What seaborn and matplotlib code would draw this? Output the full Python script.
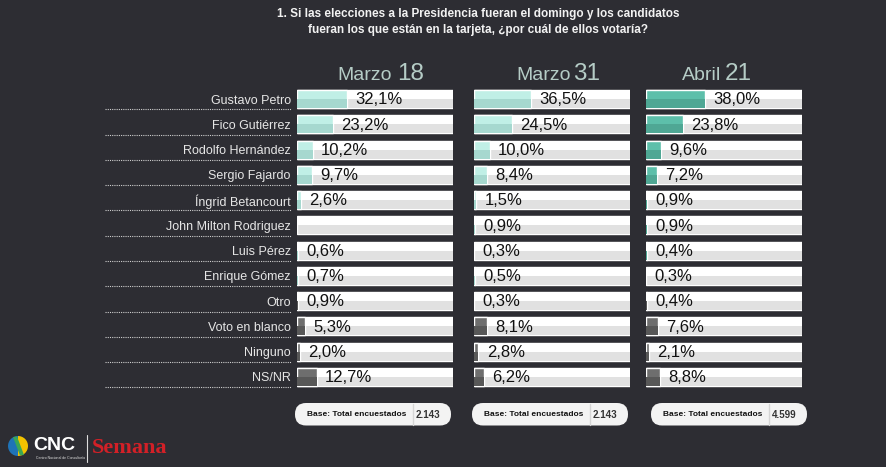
import numpy as np
import pandas as pd
import matplotlib
matplotlib.use("Agg")
import matplotlib.pyplot as plt
import seaborn as sns
from matplotlib.patches import Rectangle, FancyBboxPatch, Wedge, Polygon

candidatos = ["Gustavo Petro", "Fico Gutiérrez", "Rodolfo Hernández", "Sergio Fajardo",
              "Íngrid Betancourt", "John Milton Rodriguez", "Luis Pérez", "Enrique Gómez",
              "Otro", "Voto en blanco", "Ninguno", "NS/NR"]
tipo = ["cand"] * 8 + ["otro"] * 4
marzo18 = [32.1, 23.2, 10.2, 9.7, 2.6, np.nan, 0.6, 0.7, 0.9, 5.3, 2.0, 12.7]
marzo31 = [36.5, 24.5, 10.0, 8.4, 1.5, 0.9, 0.3, 0.5, 0.3, 8.1, 2.8, 6.2]
abril21 = [38.0, 23.8, 9.6, 7.2, 0.9, 0.9, 0.4, 0.3, 0.4, 7.6, 2.1, 8.8]
fechas = [("Marzo", "18"), ("Marzo", "31"), ("Abril", "21")]
bases = ["2.143", "2.143", "4.599"]

BG = "#2d2d33"
W, H = 887, 467
sns.set_theme(style="white")
plt.rcParams["font.family"] = ["Liberation Sans", "DejaVu Sans"]

fig = plt.figure(figsize=(W / 100, H / 100), dpi=100, facecolor=BG)

def fx(px):
    return px / W

def fy(py):
    return 1 - py / H

# zona de barras en pixeles
top, bottom = 86.4, 389.6
lefts = [297, 474, 646]
pal_panels = [
    {"cand": "#c0efe6", "otro": "#6e6e6e"},
    {"cand": "#c0efe6", "otro": "#6e6e6e"},
    {"cand": "#5dbfaa", "otro": "#6e6e6e"},
]
darker = {"#c0efe6": "#a6d8cf", "#5dbfaa": "#4fa794", "#6e6e6e": "#585858", "#ffffff": "#e1e1e1"}
header_off = [(61, 64.2), (62, 63.3), (48, 50.3)]

series = [marzo18, marzo31, abril21]

def shade_lower(ax, patches, color_lookup, z):
    for p in patches:
        fc = matplotlib.colors.to_hex(p.get_facecolor())
        lo = color_lookup.get(fc, fc)
        ax.add_patch(Rectangle((p.get_x(), p.get_y() + p.get_height() / 2), p.get_width(),
                               p.get_height() / 2, facecolor=lo, edgecolor="none", zorder=z))

for k, vals in enumerate(series):
    ax = fig.add_axes([fx(lefts[k]), fy(bottom), fx(156), (bottom - top) / H])
    ax.set_facecolor("none")
    df = pd.DataFrame({"cand": candidatos, "tipo": tipo, "val": vals})
    df["fondo"] = 100.0
    df["plot"] = df["val"].fillna(0)

    sns.barplot(data=df, x="fondo", y="cand", orient="h", color="#ffffff", saturation=1,
                width=0.71, errorbar=None, ax=ax, zorder=1)
    n0 = len(ax.patches)
    shade_lower(ax, list(ax.patches)[:n0], darker, 1.5)
    n1 = len(ax.patches)
    sns.barplot(data=df, x="plot", y="cand", hue="tipo", orient="h", palette=pal_panels[k],
                saturation=1, width=0.71, errorbar=None, dodge=False, legend=False, ax=ax, zorder=3)
    new = [p for p in list(ax.patches)[n1:] if p.get_width() > 0]
    for p in new:
        p.set_zorder(3)
    shade_lower(ax, new, darker, 3.5)

    for i, v in enumerate(vals):
        if np.isnan(v):
            continue
        ax.text(v + 5.3, i + 0.03, f"{v:.1f}".replace(".", ",") + "%", va="center", ha="left",
                fontsize=12, color="#111111", zorder=5)

    ax.set_xlim(0, 100)
    ax.set_ylim(11.5, -0.5)
    for s in ax.spines.values():
        s.set_visible(False)
    ax.set_xlabel("")
    ax.set_ylabel("")
    ax.set_xticks([])
    if k == 0:
        ax.tick_params(axis="y", length=0, pad=4.5)
        ax.set_yticks(range(len(candidatos)))
        ax.set_yticklabels(candidatos, fontsize=9, color="#e6e6e6")
        for i in range(len(candidatos)):
            ax.plot([-123, -4], [i + 0.41, i + 0.41], color="#cfcfcf", lw=0.8,
                    ls=(0, (1, 1)), clip_on=False, zorder=2)
    else:
        ax.set_yticks([])

    mes, dia = fechas[k]
    a, b = header_off[k]
    fig.text(fx(lefts[k] + a * 1.56), fy(80), mes, ha="right", va="baseline",
             fontsize=14, color="#b5ccc6")
    fig.text(fx(lefts[k] + b * 1.56), fy(80), dia, ha="left", va="baseline",
             fontsize=17.5, color="#b5ccc6")

fig.text(fx(478), fy(14), "1. Si las elecciones a la Presidencia fueran el domingo y los candidatos",
         ha="center", va="center", fontsize=8.5, fontweight="bold", color="#f2f2f2")
fig.text(fx(478), fy(30), "fueran los que están en la tarjeta, ¿por cuál de ellos votaría?",
         ha="center", va="center", fontsize=8.5, fontweight="bold", color="#f2f2f2")

# capa en pixeles: cajas de base y logo
lax = fig.add_axes([0, 0, 1, 1], facecolor="none")
lax.set_xlim(0, W)
lax.set_ylim(H, 0)
lax.axis("off")

for k, bx in enumerate([295, 472, 651]):
    lax.add_patch(FancyBboxPatch((bx, 403), 156, 22.5,
                                 boxstyle="round,pad=0,rounding_size=11",
                                 facecolor="#f3f3f3", edgecolor="none"))
    lax.text(bx + 12, 414.5, "Base: Total encuestados", fontsize=6, fontweight="bold",
             color="#111111", va="center", ha="left")
    lax.plot([bx + 118, bx + 118], [404, 425], color="#d5d5d5", lw=1)
    lax.text(bx + 121, 414.5, bases[k], fontsize=7, fontweight="bold", color="#333333",
             va="center", ha="left")

lax.add_patch(Wedge((18, 446), 10, 90, 270, facecolor="#1f73b7", edgecolor="none"))
lax.add_patch(Wedge((18, 446), 10, -90, 90, facecolor="#f2c200", edgecolor="none"))
lax.add_patch(Polygon([[13, 437], [17, 436.5], [24, 455], [20, 455.5]], facecolor="#3aa655",
                      edgecolor="none"))
lax.text(33, 446, "CNC", fontsize=14, fontweight="bold", color="#ffffff", va="center", ha="left")
lax.text(36, 458, "Centro Nacional de Consultoría", fontsize=2.5, color="#dddddd",
         va="center", ha="left")
lax.plot([87, 87], [435, 462], color="#dddddd", lw=0.8)
lax.text(92, 448, "Semana", fontsize=16, fontweight="bold", color="#d32027", va="center",
         ha="left", family="Liberation Serif")

fig.savefig("out.png", dpi=100, facecolor=BG)
